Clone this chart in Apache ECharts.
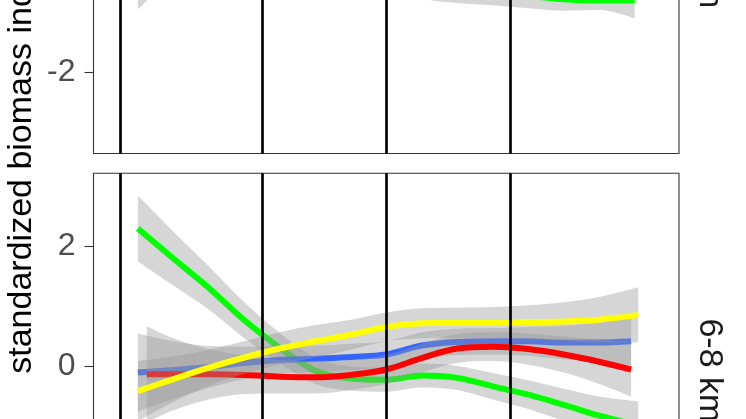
<!DOCTYPE html>
<html><head><meta charset="utf-8">
<script src="https://cdn.jsdelivr.net/npm/echarts@6/dist/echarts.min.js"></script>
<style>html,body{margin:0;padding:0;background:#fff}#c{width:746px;height:419px}</style>
</head><body><div id="c"></div>
<script>
// ---------- data ----------
const years = [1990, 1992, 1994, 1996, 1998, 2000, 2002, 2004, 2006, 2008, 2010, 2012, 2014, 2016, 2018];
const groupNames = ['green', 'blue', 'red', 'yellow'];
const firstYears = [1990, 1990, 1990.5, 1990];
const lastYears = [2018.2, 2017.8, 2017.8, 2018.2];
// bottom panel (6-8 km): fitted values and half-width of confidence band
const greenVals  = [2.30, 1.80, 1.31, 0.77, 0.31, -0.07, -0.20, -0.22, -0.15, -0.19, -0.33, -0.47, -0.64, -0.82, -0.98];
const greenHalf  = [0.55, 0.45, 0.36, 0.30, 0.25, 0.22, 0.20, 0.20, 0.20, 0.20, 0.22, 0.24, 0.27, 0.32, 0.40];
const blueVals   = [-0.10, -0.06, -0.01, 0.06, 0.11, 0.13, 0.16, 0.20, 0.35, 0.41, 0.42, 0.42, 0.40, 0.40, 0.42];
const blueHalf   = [0.65, 0.48, 0.35, 0.27, 0.23, 0.22, 0.22, 0.22, 0.22, 0.22, 0.22, 0.24, 0.28, 0.33, 0.40];
const redVals    = [-0.13, -0.13, -0.13, -0.14, -0.17, -0.18, -0.14, -0.05, 0.14, 0.30, 0.33, 0.29, 0.20, 0.08, -0.05];
const redHalf    = [0.80, 0.60, 0.42, 0.32, 0.28, 0.27, 0.25, 0.24, 0.24, 0.24, 0.24, 0.26, 0.30, 0.37, 0.45];
const yellowVals = [-0.41, -0.21, -0.02, 0.15, 0.30, 0.42, 0.53, 0.66, 0.72, 0.73, 0.73, 0.74, 0.75, 0.78, 0.86];
const yellowHalf = [0.50, 0.38, 0.30, 0.27, 0.27, 0.27, 0.25, 0.24, 0.25, 0.25, 0.26, 0.28, 0.32, 0.38, 0.46];
// top panel (4-6 km): only the visible parts
const topGreenYears = [2004, 2006, 2008, 2010, 2012, 2014, 2016, 2018];
const topGreenVals  = [-0.30, -0.50, -0.60, -0.66, -0.72, -0.78, -0.80, -0.80];
const topGreenHalf  = [0.30, 0.27, 0.24, 0.22, 0.21, 0.19, 0.16, 0.30];
const topYellowYears = [1990, 1992, 1994];
const topYellowVals  = [-0.30, 0.10, 0.40];
const topYellowHalf  = [0.65, 0.50, 0.40];
const vlineYears = [1989, 1997, 2004, 2011];
const yTicks = [-2, 0, 2];
const panelLabels = ['4-6 km', '6-8 km'];
const yTitle = 'standardized biomass index';

// ---------- styles / layout ----------
const colors = {green: '#00FF00', blue: '#3366FF', red: '#FF0000', yellow: '#FFFF00'};
const Y_MIN = -3.35, Y_MAX = 3.22, PX_PER_UNIT = 60;
const PANEL_H = (Y_MAX - Y_MIN) * PX_PER_UNIT;
const LEFT = 93.5, WIDTH = 585.5;
const TOP1 = 153.5 - PANEL_H, TOP2 = 173.3;
const FONT = 'Liberation Sans';
const SMOOTH = 0.35;
const YEAR_MS = 365.25 * 864e5;
const T = y => (y - 1970) * YEAR_MS;

const series = [];
let stackN = 0;
function addGroup(g, ys, vals, half, color, z) {
  const id = 'band' + (stackN++);
  series.push({type: 'line', xAxisIndex: g, yAxisIndex: g, stack: id, stackStrategy: 'all',
    data: vals.map((v, i) => [T(ys[i]), +(v - half[i]).toFixed(4)]),
    symbol: 'none', smooth: SMOOTH, lineStyle: {width: 0, opacity: 0}, silent: true, z: z});
  series.push({type: 'line', xAxisIndex: g, yAxisIndex: g, stack: id, stackStrategy: 'all',
    data: vals.map((v, i) => [T(ys[i]), +(2 * half[i]).toFixed(4)]),
    symbol: 'none', smooth: SMOOTH, lineStyle: {width: 0, opacity: 0},
    areaStyle: {color: 'rgb(153,153,153)', opacity: 0.4}, silent: true, z: z});
  series.push({type: 'line', xAxisIndex: g, yAxisIndex: g,
    data: vals.map((v, i) => [T(ys[i]), v]),
    symbol: 'none', smooth: SMOOTH, lineStyle: {color: color, width: 6, cap: 'butt'}, silent: true, z: z + 1});
}
function seriesYears(k) {
  const ys = years.slice();
  ys[0] = firstYears[k];
  ys[ys.length - 1] = lastYears[k];
  return ys;
}
// top panel
addGroup(0, topGreenYears, topGreenVals, topGreenHalf, colors.green, 2);
addGroup(0, topYellowYears, topYellowVals, topYellowHalf, colors.yellow, 8);
// bottom panel
const bottomVals = [greenVals, blueVals, redVals, yellowVals];
const bottomHalf = [greenHalf, blueHalf, redHalf, yellowHalf];
groupNames.forEach((name, k) => addGroup(1, seriesYears(k), bottomVals[k], bottomHalf[k], colors[name], 2 + 2 * k));
// vertical event lines
[0, 1].forEach(g => series.push({type: 'line', xAxisIndex: g, yAxisIndex: g, data: [], z: 30,
  markLine: {silent: true, z: 30, symbol: ['none', 'none'], label: {show: false}, animation: false,
    lineStyle: {color: '#000', width: 2.7, type: 'solid'},
    data: vlineYears.map(y => ({xAxis: T(y)}))}}));

const gridBase = {left: LEFT, width: WIDTH, height: PANEL_H, show: true, borderColor: '#333', borderWidth: 1.1,
  backgroundColor: 'transparent', containLabel: false, outerBoundsMode: 'none'};
const yAxisBase = {type: 'value', min: Y_MIN, max: Y_MAX, splitLine: {show: false}, axisLine: {show: false},
  axisTick: {show: true, length: 9, lineStyle: {color: '#333', width: 1.1}, customValues: yTicks},
  axisLabel: {customValues: yTicks, fontSize: 32, color: '#4D4D4D', fontFamily: FONT, margin: 18}};
const xAxisBase = {type: 'time', min: T(1987.5), max: T(2020.5), show: false};

const option = {
  animation: false,
  backgroundColor: '#fff',
  grid: [Object.assign({top: TOP1}, gridBase), Object.assign({top: TOP2}, gridBase)],
  xAxis: [Object.assign({gridIndex: 0}, xAxisBase), Object.assign({gridIndex: 1}, xAxisBase)],
  yAxis: [Object.assign({gridIndex: 0}, yAxisBase), Object.assign({gridIndex: 1}, yAxisBase)],
  series: series,
  graphic: [
    {type: 'text', x: 22, y: 163, rotation: Math.PI / 2,
      style: {text: yTitle, fontSize: 34, fontFamily: FONT, fill: '#000', align: 'center', verticalAlign: 'middle', textAlign: 'center', textVerticalAlign: 'middle'}},
    {type: 'text', x: 709, y: TOP1 + PANEL_H / 2, rotation: -Math.PI / 2,
      style: {text: panelLabels[0], fontSize: 34, fontFamily: FONT, fill: '#1A1A1A', align: 'center', verticalAlign: 'middle', textAlign: 'center', textVerticalAlign: 'middle'}},
    {type: 'text', x: 709, y: TOP2 + PANEL_H / 2, rotation: -Math.PI / 2,
      style: {text: panelLabels[1], fontSize: 34, fontFamily: FONT, fill: '#1A1A1A', align: 'center', verticalAlign: 'middle', textAlign: 'center', textVerticalAlign: 'middle'}}
  ]
};
const chart = echarts.init(document.getElementById('c'));
chart.setOption(option);
</script>
</body></html>
